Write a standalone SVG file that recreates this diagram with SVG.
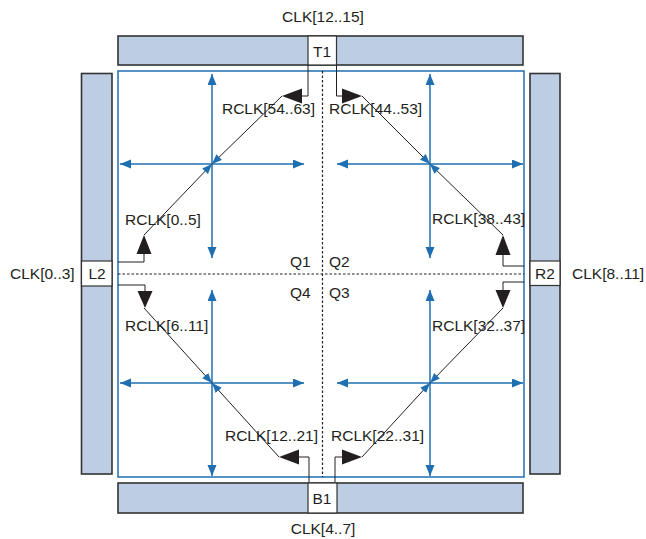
<svg xmlns="http://www.w3.org/2000/svg" width="646" height="539" viewBox="0 0 646 539">
<style>
.bar{fill:#bccde4;stroke:#333;stroke-width:1.6}
.pin{fill:#fff;stroke:#333;stroke-width:1.2}
.t{font-family:"Liberation Sans",Arial,sans-serif;font-size:15.5px;fill:#231f20}
.c{text-anchor:middle}
.e{text-anchor:end}
.blue{fill:none;stroke:#1f6fb0;stroke-width:1.5}
.blk{fill:none;stroke:#231f20;stroke-width:1}
.dash{fill:none;stroke:#231f20;stroke-width:1.2;stroke-dasharray:2.5 2}
.tri{fill:#231f20}
</style>
<defs>
<marker id="ba" markerUnits="userSpaceOnUse" markerWidth="12" markerHeight="10" refX="11" refY="4.5" orient="auto-start-reverse" viewBox="0 0 12 10">
<path d="M0,0 L11,4.5 L0,9 z" fill="#1f6fb0"/>
</marker>
<marker id="bs" markerUnits="userSpaceOnUse" markerWidth="11" markerHeight="9" refX="10" refY="4" orient="auto" viewBox="0 0 11 9">
<path d="M0,0 L10,4 L0,8 z" fill="#1f6fb0"/>
</marker>
</defs>

<g id="region">
<rect x="118" y="71" width="406" height="406" fill="#fff" stroke="#1f6fb0" stroke-width="1.5"/>
<line class="dash" x1="322.5" y1="71" x2="322.5" y2="477"/>
<line class="dash" x1="118" y1="274" x2="524" y2="274"/>
<text class="t" x="290" y="267">Q1</text>
<text class="t" x="329" y="267">Q2</text>
<text class="t" x="290" y="298">Q4</text>
<text class="t" x="329" y="298">Q3</text>
</g>

<g id="top-bar">
<rect class="bar" x="118" y="36" width="405" height="29"/>
<rect class="pin" x="308" y="36" width="28.5" height="29"/>
<text class="t c" x="322" y="57">T1</text>
<text class="t c" x="323" y="22">CLK[12..15]</text>
</g>
<g id="bottom-bar">
<rect class="bar" x="118" y="483" width="405" height="30"/>
<rect class="pin" x="308" y="483" width="29" height="30"/>
<text class="t c" x="322" y="504">B1</text>
<text class="t c" x="323" y="534">CLK[4..7]</text>
</g>
<g id="left-bar">
<rect class="bar" x="81.5" y="73.5" width="30.5" height="400.5"/>
<rect class="pin" x="81.5" y="261" width="30.5" height="25"/>
<text class="t c" x="97" y="278.5">L2</text>
<text class="t" x="10" y="279">CLK[0..3]</text>
</g>
<g id="right-bar">
<rect class="bar" x="530" y="73.5" width="30" height="400.5"/>
<rect class="pin" x="530" y="261" width="30" height="24.5"/>
<text class="t c" x="545" y="278.5">R2</text>
<text class="t" x="572" y="279">CLK[8..11]</text>
</g>

<g id="connectors">
<line class="blue" x1="212" y1="74" x2="212" y2="258" marker-start="url(#ba)" marker-end="url(#ba)"/>
<line class="blue" x1="120" y1="164" x2="304" y2="164" marker-start="url(#ba)" marker-end="url(#ba)"/>
<line class="blue" x1="430" y1="74" x2="430" y2="258" marker-start="url(#ba)" marker-end="url(#ba)"/>
<line class="blue" x1="337" y1="164" x2="523" y2="164" marker-start="url(#ba)" marker-end="url(#ba)"/>
<line class="blue" x1="212" y1="290" x2="212" y2="476" marker-start="url(#ba)" marker-end="url(#ba)"/>
<line class="blue" x1="120" y1="383" x2="304" y2="383" marker-start="url(#ba)" marker-end="url(#ba)"/>
<line class="blue" x1="430" y1="290" x2="430" y2="476" marker-start="url(#ba)" marker-end="url(#ba)"/>
<line class="blue" x1="337" y1="383" x2="523" y2="383" marker-start="url(#ba)" marker-end="url(#ba)"/>

<line class="blk" x1="282" y1="96" x2="212" y2="164" marker-end="url(#bs)"/>
<line class="blk" x1="144" y1="235" x2="212" y2="164" marker-end="url(#bs)"/>
<line class="blk" x1="362" y1="96" x2="430" y2="164" marker-end="url(#bs)"/>
<line class="blk" x1="503" y1="235" x2="430" y2="164" marker-end="url(#bs)"/>
<line class="blk" x1="144" y1="308" x2="212" y2="383" marker-end="url(#bs)"/>
<line class="blk" x1="279" y1="457" x2="212" y2="383" marker-end="url(#bs)"/>
<line class="blk" x1="362" y1="457" x2="430" y2="383" marker-end="url(#bs)"/>
<line class="blk" x1="503" y1="308" x2="430" y2="383" marker-end="url(#bs)"/>

<polyline class="blk" points="308,65 308,96 302,96"/>
<polyline class="blk" points="336.5,65 336.5,96 342,96"/>
<polyline class="blk" points="118,262 144,262 144,254"/>
<polyline class="blk" points="118,285 145,285 145,291"/>
<polyline class="blk" points="524,266 503,266 503,255"/>
<polyline class="blk" points="524,282 503,282 503,290"/>
<polyline class="blk" points="309,482 309,457 299,457"/>
<polyline class="blk" points="335,482 335,457 342,457"/>

<path class="tri" d="M282,96 L302,88.5 L302,103.5 z"/>
<path class="tri" d="M362,96 L342,88.5 L342,103.5 z"/>
<path class="tri" d="M144,235 L136.5,254 L151.5,254 z"/>
<path class="tri" d="M145,308 L137.5,291 L152.5,291 z"/>
<path class="tri" d="M503,235 L495.5,255 L510.5,255 z"/>
<path class="tri" d="M503,308 L495.5,290 L510.5,290 z"/>
<path class="tri" d="M279,457 L299,449.5 L299,464.5 z"/>
<path class="tri" d="M362,457 L342,449.5 L342,464.5 z"/>
</g>

<g id="labels">
<text class="t e" x="315" y="114">RCLK[54..63]</text>
<text class="t" x="329" y="114">RCLK[44..53]</text>
<text class="t" x="125" y="225">RCLK[0..5]</text>
<text class="t" x="432" y="224">RCLK[38..43]</text>
<text class="t" x="125" y="331">RCLK[6..11]</text>
<text class="t" x="432" y="331">RCLK[32..37]</text>
<text class="t e" x="318" y="441">RCLK[12..21]</text>
<text class="t" x="331" y="441">RCLK[22..31]</text>
</g>
</svg>
